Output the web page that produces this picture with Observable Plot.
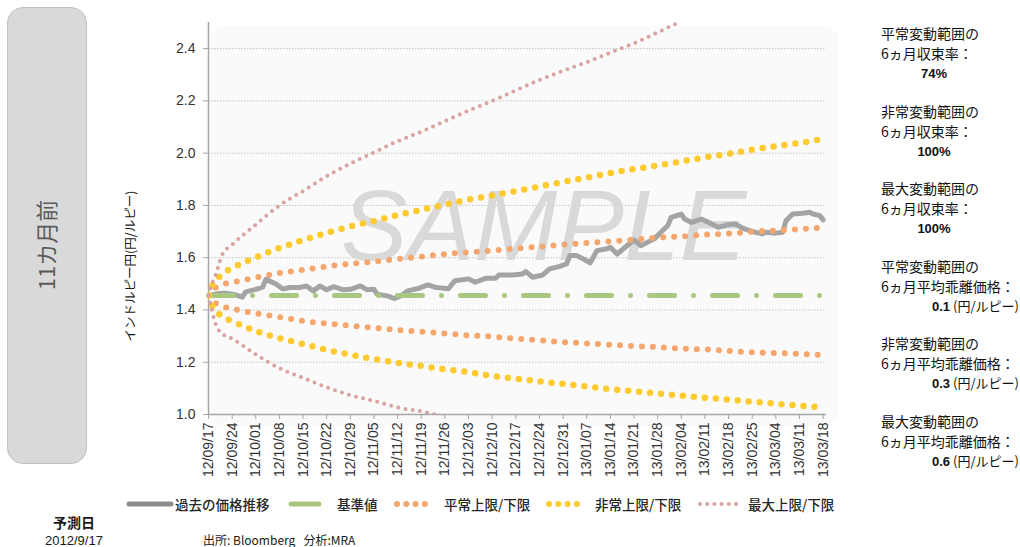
<!DOCTYPE html>
<html>
<head>
<meta charset="utf-8">
<script src="https://cdn.jsdelivr.net/npm/d3@7"></script>
<script src="https://cdn.jsdelivr.net/npm/@observablehq/plot@0.6"></script>
<style>
  body { margin: 0; background: #fff; }
  #root { position: relative; width: 1020px; height: 547px; overflow: hidden;
          font-family: "Noto Sans CJK JP", "Liberation Sans", sans-serif; color: #1a1a1a; }
  .abs { position: absolute; white-space: nowrap; }
  .rot { position: absolute; white-space: nowrap; transform: translate(-50%, -50%) rotate(-90deg); }
  #panel { position: absolute; left: 7px; top: 7px; width: 80px; height: 457px; box-sizing: border-box;
           background: #d9d9d9; border: 1px solid #c0c0c0; border-radius: 16px; }
  #chart { position: absolute; left: 0; top: 0; }
  .rt { position: absolute; white-space: nowrap; font-size: 14px; line-height: 20px; color: #111; }
  .rv { position: absolute; white-space: nowrap; font-size: 13px; line-height: 20px; color: #111; }
  .rv b { font-family: "Liberation Sans", Arial, sans-serif; font-weight: bold; }
  .lg { position: absolute; white-space: nowrap; font-size: 13.5px; line-height: 18px; color: #262626; font-weight: 500; }
</style>
</head>
<body>
<div id="root">
  <div id="panel"></div>
</div>
<script>
// ---------------- data ----------------
const xTickLabels = ["12/09/17","12/09/24","12/10/01","12/10/08","12/10/15","12/10/22","12/10/29",
  "12/11/05","12/11/12","12/11/19","12/11/26","12/12/03","12/12/10","12/12/17","12/12/24","12/12/31",
  "13/01/07","13/01/14","13/01/21","13/01/28","13/02/04","13/02/11","13/02/18","13/02/25","13/03/04",
  "13/03/11","13/03/18"];
const yTicks = [1.0, 1.2, 1.4, 1.6, 1.8, 2.0, 2.2, 2.4];
const xDomain = ["2012-09-17", "2013-03-19"];
const yDomain = [1.0, 2.5];

const priceDates = ["2012-09-17","2012-09-20","2012-09-22","2012-09-25","2012-09-27","2012-09-28",
  "2012-10-01","2012-10-03","2012-10-04","2012-10-07","2012-10-09","2012-10-11","2012-10-14","2012-10-16",
  "2012-10-18","2012-10-20","2012-10-22","2012-10-24","2012-10-27","2012-10-29","2012-11-01","2012-11-03",
  "2012-11-05","2012-11-06","2012-11-09","2012-11-11","2012-11-13","2012-11-15","2012-11-18","2012-11-21",
  "2012-11-23","2012-11-27","2012-11-29","2012-12-03","2012-12-05","2012-12-08","2012-12-11","2012-12-12",
  "2012-12-16","2012-12-19","2012-12-20","2012-12-22","2012-12-25","2012-12-27","2012-12-30","2013-01-01",
  "2013-01-02","2013-01-04","2013-01-06","2013-01-08","2013-01-10","2013-01-13","2013-01-14","2013-01-16",
  "2013-01-21","2013-01-23","2013-01-27","2013-01-28","2013-01-31","2013-02-01","2013-02-04","2013-02-05",
  "2013-02-07","2013-02-10","2013-02-13","2013-02-15","2013-02-18","2013-02-20","2013-02-22","2013-02-24",
  "2013-02-26","2013-02-28","2013-03-01","2013-03-04","2013-03-06","2013-03-07","2013-03-09","2013-03-12",
  "2013-03-14","2013-03-15","2013-03-17","2013-03-18"];
const priceValues = [1.455,1.463,1.464,1.458,1.449,1.469,
  1.479,1.487,1.517,1.499,1.480,1.486,1.486,1.492,
  1.473,1.492,1.477,1.489,1.477,1.479,1.492,1.477,
  1.479,1.460,1.454,1.444,1.454,1.473,1.482,1.496,
  1.487,1.481,1.512,1.519,1.506,1.521,1.521,1.534,
  1.534,1.538,1.547,1.525,1.534,1.557,1.567,1.576,
  1.608,1.608,1.595,1.580,1.627,1.634,1.640,1.614,
  1.668,1.646,1.672,1.685,1.723,1.754,1.767,1.748,
  1.735,1.748,1.729,1.716,1.727,1.729,1.714,1.704,
  1.697,1.691,1.697,1.694,1.697,1.742,1.767,1.770,
  1.774,1.767,1.761,1.745];

const baseDates = ["2012-09-17", "2013-03-18"];
const baseValue = 1.455;

const bandDates = ["2012-09-17","2012-09-18","2012-09-19","2012-09-21","2012-09-24","2012-10-01","2012-10-08",
  "2012-10-15","2012-10-22","2012-10-29","2012-11-05","2012-11-12","2012-11-19","2012-11-26","2012-12-03",
  "2012-12-10","2012-12-17","2012-12-24","2012-12-31","2013-01-07","2013-01-14","2013-01-21","2013-01-28",
  "2013-02-04","2013-02-11","2013-02-18","2013-02-25","2013-03-04","2013-03-11","2013-03-18"];
const normalUpper = [1.455,1.474,1.485,1.497,1.505,1.524,1.541,1.554,1.566,1.577,1.585,1.595,1.604,1.614,1.621,
  1.627,1.635,1.642,1.650,1.656,1.663,1.669,1.677,1.681,1.688,1.692,1.700,1.704,1.709,1.715];
const normalLower = [1.455,1.436,1.426,1.414,1.405,1.387,1.373,1.358,1.348,1.340,1.332,1.323,1.317,1.310,1.303,
  1.298,1.290,1.284,1.277,1.272,1.267,1.262,1.258,1.252,1.249,1.243,1.238,1.235,1.232,1.228];
const abnormalUpper = [1.455,1.490,1.510,1.537,1.560,1.601,1.637,1.667,1.695,1.720,1.740,1.763,1.783,1.803,1.822,
  1.838,1.855,1.872,1.890,1.906,1.924,1.939,1.953,1.968,1.984,1.998,2.013,2.027,2.039,2.054];
const abnormalLower = [1.455,1.418,1.400,1.375,1.357,1.319,1.292,1.270,1.247,1.229,1.212,1.198,1.186,1.173,1.162,
  1.148,1.137,1.127,1.117,1.107,1.097,1.089,1.081,1.072,1.064,1.057,1.049,1.041,1.034,1.027];
const maxUpper = [1.455,1.500,1.530,1.610,1.650,1.726,1.800,1.855,1.912,1.960,2.003,2.046,2.082,2.122,2.163,
  2.200,2.240,2.280,2.315,2.348,2.385,2.420,2.462,2.505];
const maxLower = [1.455,1.400,1.350,1.310,1.290,1.230,1.177,1.140,1.104,1.074,1.052,1.027,1.012,0.990];

const seriesNames = ["過去の価格推移", "基準値", "平常上限/下限", "非常上限/下限", "最大上限/下限"];
const yAxisTitle = "インドルピー円(円/ルピー)";
const panelText = "11カ月前";
const forecastLabel = "予測日";
const forecastDate = "2012/9/17";
const sourceText = "出所: Bloomberg\u00a0\u00a0\u00a0分析:MRA";
const sideTitles = ["平常変動範囲の","非常変動範囲の","最大変動範囲の","平常変動範囲の","非常変動範囲の","最大変動範囲の"];
const sideSubtitles = ["6ヵ月収束率：","6ヵ月収束率：","6ヵ月収束率：","6ヵ月平均乖離価格：","6ヵ月平均乖離価格：","6ヵ月平均乖離価格："];
const sideValues = ["74%","100%","100%","0.1","0.3","0.6"];
const sideUnits = ["","","","(円/ルピー)","(円/ルピー)","(円/ルピー)"];
const watermark = "SAMPLE";

// ---------------- styles ----------------
const C = {
  price: "#a4a4a4", priceLegend: "#8c8c8c", base: "#a9c77e",
  normal: "#f5a66c", abnormal: "#fdca2f", max: "#d9a3a2", axis: "#a6a6a6"
};

// ---------------- build ----------------
const parse = d3.utcParse("%Y-%m-%d");
const tickParse = d3.utcParse("%y/%m/%d");
const tickDates = xTickLabels.map(tickParse);
const tickFmt = d3.utcFormat("%y/%m/%d");

const price = priceDates.map((d, i) => ({date: parse(d), v: priceValues[i]}));
const base = baseDates.map(d => ({date: parse(d), v: baseValue}));
const band = vals => vals.map((v, i) => ({date: parse(bandDates[i]), v}));

const dotLine = (data, color, width, gap) => Plot.line(data, {
  x: "date", y: "v", stroke: color, strokeWidth: width, strokeDasharray: `0 ${gap}`,
  strokeLinecap: "round", curve: "monotone-x", clip: true
});

const chart = Plot.plot({
  width: 1020, height: 480,
  marginLeft: 208, marginRight: 194, marginTop: 22, marginBottom: 66,
  style: {fontFamily: "'Liberation Sans', Arial, sans-serif", fontSize: "14px", color: "#333",
          background: "transparent", overflow: "visible"},
  x: {type: "utc", domain: xDomain.map(parse)},
  y: {domain: yDomain},
  marks: [
    Plot.frame({fill: "#fafafa", stroke: null, rx: 14, insetTop: 4, insetLeft: 2, insetRight: -12, insetBottom: -12}),
    Plot.gridY(yTicks, {stroke: "#c2c2c2", strokeOpacity: 1, strokeDasharray: "1.5,1.5", strokeWidth: 1}),
    Plot.text([watermark], {frameAnchor: "middle", text: d => d, dx: 26, dy: 9, fontSize: 100,
      fontStyle: "italic", fill: "#d9d9d9", fontFamily: "'Liberation Sans Narrow', 'Liberation Sans', sans-serif"}),
    Plot.ruleY([yDomain[0]], {stroke: C.axis, strokeWidth: 1.5}),
    Plot.ruleX([parse(xDomain[0])], {stroke: C.axis, strokeWidth: 1.5}),
    Plot.axisY({ticks: yTicks, tickSize: 5, tickPadding: 8, tickFormat: d => d.toFixed(1),
      stroke: C.axis, fill: "#333", label: null}),
    Plot.axisX({ticks: tickDates, tickSize: 5, tickPadding: 3, tickRotate: -90, tickFormat: tickFmt,
      stroke: C.axis, fill: "#333", label: null}),
    Plot.line(price, {x: "date", y: "v", stroke: C.price, strokeWidth: 5, strokeLinejoin: "round", clip: true}),
    Plot.line(base, {x: "date", y: "v", stroke: C.base, strokeWidth: 5, strokeDasharray: "25 19 0 19", strokeLinecap: "round"}),
    dotLine(band(normalUpper), C.normal, 6, 11),
    dotLine(band(normalLower), C.normal, 6, 11),
    dotLine(band(abnormalUpper), C.abnormal, 6.5, 11),
    dotLine(band(abnormalLower), C.abnormal, 6.5, 11),
    dotLine(band(maxUpper), C.max, 4, 7.3),
    dotLine(band(maxLower), C.max, 4, 7.3)
  ]
});
chart.id = "chart";
const root = document.getElementById("root");
root.appendChild(chart);

function add(cls, html, css) {
  const el = document.createElement("div");
  el.className = cls;
  el.innerHTML = html;
  Object.assign(el.style, css);
  root.appendChild(el);
  return el;
}

// left panel text
add("rot", panelText, {left: "45px", top: "245px", fontSize: "22px", color: "#595959"});
// y axis title
add("rot", yAxisTitle, {left: "129px", top: "266px", fontSize: "12.5px", color: "#1a1a1a"});
// forecast date
add("abs", forecastLabel, {left: "74px", top: "522px", transform: "translate(-50%,-50%)", fontSize: "14px", fontWeight: "bold", color: "#1a1a1a"});
add("abs", forecastDate, {left: "74px", top: "540px", transform: "translate(-50%,-50%)", fontSize: "13px", color: "#1a1a1a", fontFamily: "'Liberation Sans', Arial, sans-serif"});
// source
add("abs", sourceText, {left: "203px", top: "531px", fontSize: "12px", lineHeight: "18px", color: "#1a1a1a"});

// side notes
sideTitles.forEach((t, i) => {
  const y0 = 33 + 77.6 * i;
  add("rt", t, {left: "881px", top: (y0 - 10) + "px"});
  add("rt", sideSubtitles[i], {left: "881px", top: (y0 + 10) + "px"});
  if (sideUnits[i]) {
    add("rv", `<b>${sideValues[i]}</b> ${sideUnits[i]}`, {left: "932px", top: (y0 + 30) + "px"});
  } else {
    add("rv", `<b>${sideValues[i]}</b>`, {left: "934px", top: (y0 + 30) + "px", transform: "translateX(-50%)"});
  }
});

// legend
function swatch(left, width, color, sw, dash, cap) {
  const ns = "http://www.w3.org/2000/svg";
  const svg = document.createElementNS(ns, "svg");
  svg.setAttribute("width", width + 8);
  svg.setAttribute("height", 12);
  svg.style.position = "absolute";
  svg.style.left = (left - 4) + "px";
  svg.style.top = "498px";
  const l = document.createElementNS(ns, "line");
  l.setAttribute("x1", 4); l.setAttribute("x2", 4 + width);
  l.setAttribute("y1", 6); l.setAttribute("y2", 6);
  l.setAttribute("stroke", color);
  l.setAttribute("stroke-width", sw);
  l.setAttribute("stroke-linecap", cap);
  if (dash) l.setAttribute("stroke-dasharray", dash);
  svg.appendChild(l);
  root.appendChild(svg);
}
swatch(129, 42, C.priceLegend, 5, null, "round");
swatch(291, 28, C.base, 5, null, "round");
swatch(397, 37.2, C.normal, 6, "0 9.3", "round");
swatch(549, 37.2, C.abnormal, 6, "0 9.3", "round");
swatch(700, 36, C.max, 4, "0 7.2", "round");
const legendLefts = [175, 337, 444, 595, 748];
seriesNames.forEach((n, i) => add("lg", n, {left: legendLefts[i] + "px", top: "495px"}));
</script>
</body>
</html>
